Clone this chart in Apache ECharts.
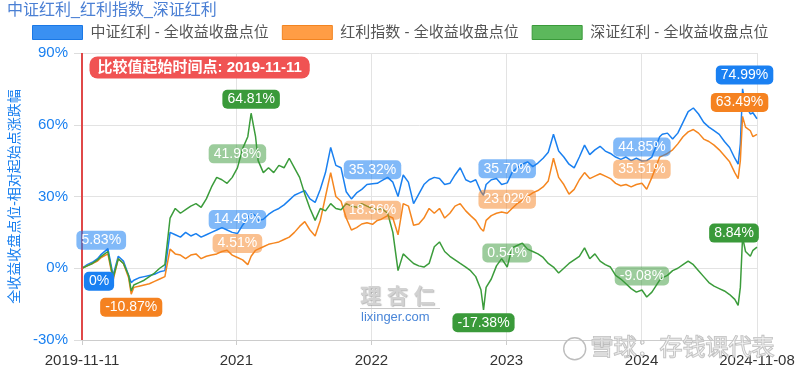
<!DOCTYPE html>
<html><head><meta charset="utf-8">
<script src="https://cdn.jsdelivr.net/npm/echarts@6/dist/echarts.min.js"></script>
<style>html,body{margin:0;padding:0;background:#fff}#c{width:800px;height:375px}</style>
</head><body><div id="c"></div>
<script>
const chartTitle = '中证红利_红利指数_深证红利';
const seriesNames = ['中证红利 - 全收益收盘点位', '红利指数 - 全收益收盘点位', '深证红利 - 全收益收盘点位'];
const yAxisName = '全收益收盘点位-相对起始点涨跌幅';
const startLabel = '比较值起始时间点: 2019-11-11';

const dates = [
'2019-11-11','2019-11-25','2019-12-09','2019-12-23','2020-01-02','2020-01-20','2020-02-03','2020-02-17','2020-03-02','2020-03-16',
'2020-03-23','2020-03-30','2020-04-13','2020-04-27','2020-05-11','2020-05-25','2020-06-08','2020-06-22','2020-07-06','2020-07-20',
'2020-08-03','2020-08-17','2020-08-31','2020-09-14','2020-09-28','2020-10-12','2020-10-26','2020-11-09','2020-11-23','2020-12-07',
'2020-12-21','2021-01-04','2021-01-18','2021-02-01','2021-02-10','2021-02-22','2021-03-01','2021-03-15','2021-03-29','2021-04-12',
'2021-04-26','2021-05-10','2021-05-24','2021-06-07','2021-06-21','2021-07-05','2021-07-19','2021-08-02','2021-08-16','2021-08-30',
'2021-09-13','2021-09-27','2021-10-11','2021-10-25','2021-11-08','2021-11-22','2021-12-06','2021-12-20','2022-01-04','2022-01-17',
'2022-01-28','2022-02-14','2022-02-28','2022-03-14','2022-03-28','2022-04-11','2022-04-25','2022-05-09','2022-05-23','2022-06-06',
'2022-06-20','2022-07-04','2022-07-18','2022-08-01','2022-08-15','2022-08-29','2022-09-13','2022-09-26','2022-10-10','2022-10-24',
'2022-10-31','2022-11-07','2022-11-21','2022-12-05','2022-12-19','2023-01-03','2023-01-16','2023-01-30','2023-02-13','2023-02-27',
'2023-03-13','2023-03-27','2023-04-10','2023-04-24','2023-05-08','2023-05-22','2023-06-05','2023-06-19','2023-07-03','2023-07-17',
'2023-07-31','2023-08-14','2023-08-28','2023-09-11','2023-09-25','2023-10-09','2023-10-23','2023-11-06','2023-11-20','2023-12-04',
'2023-12-18','2024-01-02','2024-01-15','2024-01-29','2024-02-19','2024-02-26','2024-03-11','2024-03-25','2024-04-08','2024-04-22',
'2024-05-06','2024-05-20','2024-06-03','2024-06-17','2024-07-01','2024-07-15','2024-07-29','2024-08-12','2024-08-26','2024-09-09',
'2024-09-18','2024-09-24','2024-09-30','2024-10-08','2024-10-21','2024-10-28','2024-11-08'];

const csiDividend = [
0,1.5,2.5,4,5.83,8.2,-3,5,3,-3,
-6,-5,-4,-3.5,-3,-2.5,-1.5,-1,15,14,
13,15,13.5,14.5,13,14,15,16,17,16,
15,14.49,18,21,23,22,20,20.5,22.5,24,
25,26.5,28.5,30.5,31.5,32.5,29,27.5,33,40,
50.5,43,42,32,29,31.5,33,35,35.32,35.5,
36.5,38,36,30,39,36,27,31,35,37,
38,37.5,35,35.5,39,42,37,36,37,32,
30.5,35,37,37.5,35,35.70,40,42,43.5,44.5,
42.5,44,46,48.5,56,49,46.5,43.5,42,46.5,
51.5,47.5,49.5,51,49,48,46.5,45.5,46.5,45,
46,44.85,45,46.5,55,56,56.5,54,56.5,61,
65.5,67,64.5,61,59,57.5,56,53,50.5,46,
43.5,52,74.99,68,64.5,65,62.5];

const dividendIndex = [
0,1,2,3,4.5,6,-5,4,2,-4,
-10.87,-8,-7.5,-7,-6.5,-5.5,-4.5,-3.5,8,6,
5.5,4,5.5,6,4,5,5.5,6,7,7.5,
5.5,4.51,3.5,1.5,5,7.5,8,9,10,10.5,
11,12,13,15,17.5,19.5,16,13.5,20,30,
40,30,28,21,16,17,18.5,19,18.36,20,
20.5,22,21,14,27,26,18,18.5,21,25,
23,25,21,23,26,27,24,22,20,16.5,
15.5,20,22,23,23.5,23.02,25,27,28.5,30,
31.5,32.5,34,36.5,46,38,35,31,33,37,
40,37.5,38.5,39.5,38.5,37.5,35.5,34.5,35,34,
35,35.51,33,38,46.5,47,48,49.5,52,55,
57,58,56.5,54,53,51.5,49.5,47,44.5,40,
37.5,45,63.49,59,57.5,55,56];

const szseDividend = [
0,1,2,3.5,5,7,-4,4,2,-3,
-9.5,-7,-6,-5,-3.5,-2,0,1.5,21,25,
23,24.5,26,27,25.5,29,34,38,37,35.5,
38,41.98,50,55,64.81,55,45,40,42,40,
43,42,46,42,38,31,25,20,25,24,
27,25,24.5,27,26,25.5,27,26,25,24.5,
25,23,15,-1,6,4,2,1,0.5,2,
9,11,7,5,3.5,2,0.5,-1,-3.5,-9,
-17.38,-8,-4.5,1,4,0.54,8.5,9.5,10.5,8,
7,6,4.5,2,0.5,-2,0,2,3.5,5,
8.5,4,6,3,1.5,0.5,-3,-4.5,-6.5,-8.5,
-10,-9.08,-12,-10,-5,-4,-3,-1,0,1.5,
3,1.5,-1,-3.5,-6,-7.5,-8.5,-9.5,-11,-13,
-15.5,-8,13,7,5,7.5,8.84];

const xTickDates = ['2019-11-11','2021-01-01','2022-01-01','2023-01-01','2024-01-01','2024-11-08'];
const xTickLabels = ['2019-11-11','2021','2022','2023','2024','2024-11-08'];
const yMin = -30, yMax = 90, yStep = 30;

// annotation choices (which points get a value tag)
const annBlue = [
  {date:'2019-11-11', kind:'solid', side:'bottom', dx:17},
  {date:'2020-01-02', kind:'light', side:'top'},
  {date:'2021-01-04', kind:'light', side:'top'},
  {date:'2022-01-04', kind:'light', side:'top'},
  {date:'2023-01-03', kind:'light', side:'top'},
  {date:'2024-01-02', kind:'light', side:'top'},
  {date:'2024-09-30', kind:'solid', side:'top', dx:2}
];
const annOrange = [
  {date:'2020-03-23', kind:'solid', side:'bottom'},
  {date:'2021-01-04', kind:'light', side:'top'},
  {date:'2022-01-04', kind:'light', side:'top'},
  {date:'2023-01-03', kind:'light', side:'top'},
  {date:'2024-01-02', kind:'light', side:'top'},
  {date:'2024-09-30', kind:'solid', side:'top', dx:-3}
];
const annGreen = [
  {date:'2021-01-04', kind:'light', side:'top'},
  {date:'2021-02-10', kind:'solid', side:'top'},
  {date:'2022-10-31', kind:'solid', side:'bottom'},
  {date:'2023-01-03', kind:'light', side:'top'},
  {date:'2024-01-02', kind:'light', side:'top'},
  {date:'2024-11-08', kind:'solid', side:'top', dx:-23}
];

const FONT = "'Liberation Sans', 'Noto Sans CJK SC', sans-serif";
const ts = s => { const p = s.split('-').map(Number); return new Date(p[0], p[1]-1, p[2]).getTime(); };
const pairs = vals => dates.map((d, i) => [ts(d), vals[i]]);
const fmtPct = v => (v === 0 ? '0' : v.toFixed(2)) + '%';
const tickTs = xTickDates.map(ts);

const COLORS = {
  blue:   {line:'#1a80f0', solid:'#1a80f2', light:'rgba(26,128,242,0.55)', legend:'#3a90f2', border:'#1a78e6'},
  orange: {line:'#f5861f', solid:'#f58220', light:'rgba(245,130,32,0.5)',  legend:'#ff9d45', border:'#f28420'},
  green:  {line:'#3b9c3b', solid:'#3a9a3a', light:'rgba(58,154,58,0.5)',   legend:'#5cb85c', border:'#3a9a3a'}
};

function buildMarks(ann, vals, c) {
  return ann.map(a => {
    const i = dates.indexOf(a.date);
    const v = vals[i];
    return {
      coord: [ts(a.date), v],
      label: {
        formatter: fmtPct(v),
        position: a.side,
        distance: a.side === 'top' ? 4 : 3,
        offset: [a.dx || 0, 0],
        backgroundColor: a.kind === 'solid' ? c.solid : c.light
      }
    };
  });
}

const markCommon = {
  symbol: 'circle', symbolSize: 1, silent: true, animation: false,
  itemStyle: {color: 'rgba(0,0,0,0)'},
  label: {show: true, color: '#fff', fontSize: 14, lineHeight: 15, padding: [2, 5], borderRadius: 5, fontFamily: FONT}
};

function mkSeries(name, vals, c, ann, extra) {
  return {
    name, type: 'line', data: pairs(vals), showSymbol: false, symbol: 'none',
    lineStyle: {color: c.line, width: 1.5}, itemStyle: {color: c.line},
    emphasis: {disabled: true}, animation: false,
    markPoint: Object.assign({}, markCommon, {data: buildMarks(ann, vals, c).concat(extra || [])})
  };
}

const blueSeries = mkSeries(seriesNames[0], csiDividend, COLORS.blue, annBlue, [{
  coord: [ts(dates[0]), yMax],
  label: {formatter: startLabel, position: [8, 4], align: 'left', verticalAlign: 'top',
    backgroundColor: '#f05353', fontWeight: 'bold', fontSize: 15, lineHeight: 16, padding: [3, 8], borderRadius: 8}
}]);
blueSeries.markLine = {
  silent: true, animation: false, symbol: ['none', 'none'],
  lineStyle: {color: '#e04848', width: 2, type: 'solid'},
  label: {show: false},
  data: [{xAxis: ts(dates[0])}]
};
const orangeSeries = mkSeries(seriesNames[1], dividendIndex, COLORS.orange, annOrange);
const greenSeries = mkSeries(seriesNames[2], szseDividend, COLORS.green, annGreen);

const chart = echarts.init(document.getElementById('c'), null, {renderer: 'canvas'});
chart.setOption({
  animation: false,
  backgroundColor: '#fff',
  textStyle: {fontFamily: FONT},
  title: {text: chartTitle, left: 7, top: 3, padding: 0,
    textStyle: {fontSize: 16, fontWeight: 'normal', color: '#4a7fd4', fontFamily: FONT}},
  legend: {
    left: 32, top: 25, padding: 0, itemWidth: 50, itemHeight: 14, itemGap: 13, icon: 'rect',
    textStyle: {fontSize: 15, color: '#555', padding: [0, 0, 0, 3], fontFamily: FONT},
    data: [
      {name: seriesNames[0], itemStyle: {color: COLORS.blue.legend, borderColor: COLORS.blue.border, borderWidth: 1}},
      {name: seriesNames[1], itemStyle: {color: COLORS.orange.legend, borderColor: COLORS.orange.border, borderWidth: 1}},
      {name: seriesNames[2], itemStyle: {color: COLORS.green.legend, borderColor: COLORS.green.border, borderWidth: 1}}
    ]
  },
  grid: {left: 82, right: 43, top: 53, bottom: 35, containLabel: false},
  xAxis: {
    type: 'value', min: tickTs[0], max: tickTs[tickTs.length - 1], scale: true,
    axisLine: {show: true, onZero: false, lineStyle: {color: '#cccccc'}},
    axisTick: {show: true, length: 5, customValues: tickTs, lineStyle: {color: '#cccccc'}},
    splitLine: {show: true, lineStyle: {color: '#e3e3e3'}},
    axisLabel: {
      customValues: tickTs, fontSize: 15, color: '#333', margin: 13, fontFamily: FONT,
      formatter: v => { const i = tickTs.indexOf(v); return i >= 0 ? xTickLabels[i] : ''; }
    }
  },
  yAxis: {
    type: 'value', min: yMin, max: yMax, interval: yStep,
    name: yAxisName, nameLocation: 'middle', nameGap: 56, nameRotate: 90,
    nameTextStyle: {fontSize: 14, color: '#1a80f0', fontFamily: FONT},
    axisLine: {show: false},
    axisTick: {show: true, length: 8, lineStyle: {color: '#dddddd'}},
    splitLine: {lineStyle: {color: '#e3e3e3'}},
    axisLabel: {formatter: '{value}%', fontSize: 15, color: '#1a80f0', margin: 14, fontFamily: FONT}
  },
  series: [blueSeries, orangeSeries, greenSeries],
  graphic: [
    {type: 'text', left: 360, top: 287, z: 50, silent: true,
      style: {text: '理 杏 仁', fontSize: 21, fontWeight: 'bold', fill: '#d2d2d2', fontFamily: FONT,
        textShadowColor: 'rgba(120,120,120,0.5)', textShadowBlur: 1, textShadowOffsetX: 1, textShadowOffsetY: 1}},
    {type: 'rect', left: 360, top: 308, z: 50, silent: true, shape: {width: 80, height: 1}, style: {fill: '#c8c8c8'}},
    {type: 'text', left: 361, top: 311, z: 50, silent: true,
      style: {text: 'lixinger.com', fontSize: 13, fill: '#4a86d8', fontFamily: FONT}},
    {type: 'circle', left: 563, top: 337, z: 50, silent: true, shape: {r: 11},
      style: {fill: 'rgba(255,255,255,0.3)', stroke: '#bdbdbd', lineWidth: 1.4}},
    {type: 'text', left: 590, top: 337, z: 50, silent: true,
      style: {text: '雪球：存钱课代表', fontSize: 23, fill: 'rgba(255,255,255,0.35)', stroke: '#bdbdbd', lineWidth: 1.2, fontFamily: FONT}}
  ]
});
</script>
</body></html>
